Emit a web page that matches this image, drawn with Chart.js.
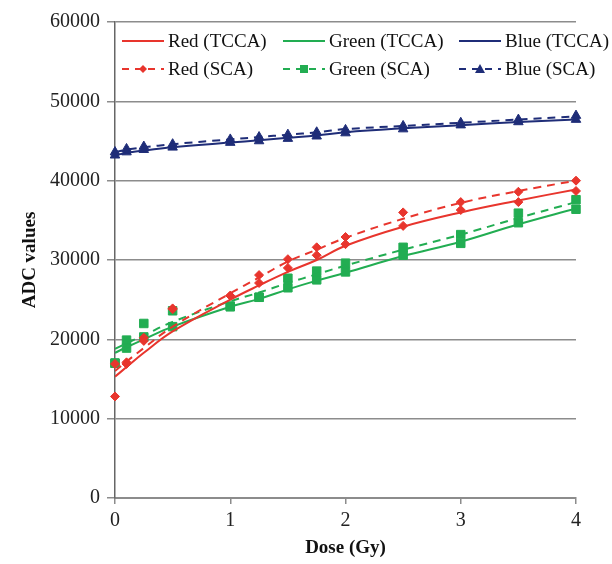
<!DOCTYPE html>
<html lang="en">
<head>
    <meta charset="UTF-8">
    <title>ADC values vs Dose</title>
    <script src="https://cdn.jsdelivr.net/npm/chart.js"></script>
    <style>
        body {
            margin: 0;
            background: #fff;
            font-family: 'Liberation Serif', 'Times New Roman', serif;
        }
        #wrap {
            position: relative;
            width: 612px;
            height: 564px;
        }
        .legend-item {
            position: absolute;
            height: 24px;
            display: flex;
            align-items: center;
            font-size: 19px;
            color: #111;
            white-space: nowrap;
        }
        .legend-item svg {
            margin-right: 4px;
        }
    </style>
</head>
<body>
<div id="wrap">
    <canvas id="chart" width="612" height="564"></canvas>
    <div id="legend"></div>
</div>

<script>
// doses (Gy) where the data were measured
const doses = [0, 0.1, 0.25, 0.5, 1, 1.25, 1.5, 1.75, 2, 2.5, 3, 3.5, 4];

// measured points (markers)
const redTccaPts   = [12800, 16900, 19800, 23800, 25500, 27100, 29000, 30600, 32000, 34300, 36300, 37300, 38700];
const redScaPts    = [16900, 17100, 20200, 23900, 25500, 28100, 30100, 31600, 32900, 36000, 37300, 38600, 40000];
const greenTccaPts = [17000, 18900, 20300, 21600, 24100, 25300, 26500, 27500, 28500, 30600, 32100, 34700, 36400];
const greenScaPts  = [17000, 19900, 22000, 23600, 24200, 25300, 27700, 28600, 29600, 31600, 33200, 35900, 37600];
const blueTccaPts  = [43200, 43600, 43900, 44200, 44800, 45000, 45300, 45600, 46000, 46500, 47000, 47400, 47700];
const blueScaPts   = [43600, 44000, 44300, 44600, 45200, 45500, 45800, 46100, 46400, 46900, 47300, 47700, 48200];

// fitted curves at the same doses
const redTccaFit   = [15300, 16500, 18300, 21000, 25000, 26800, 28500, 30000, 31800, 34200, 36000, 37500, 38900];
const redScaFit    = [16000, 17200, 18900, 21600, 25800, 27800, 29800, 31300, 32800, 35200, 37200, 38700, 40000];
const greenTccaFit = [18300, 19000, 20000, 21600, 24100, 25100, 26300, 27400, 28400, 30500, 32300, 34500, 36500];
const greenScaFit  = [18800, 19500, 20500, 22200, 24800, 25900, 27100, 28200, 29300, 31300, 33200, 35300, 37300];
const blueTccaFit  = [43200, 43500, 43800, 44200, 44800, 45100, 45400, 45700, 46100, 46600, 47000, 47400, 47700];
const blueScaFit   = [43600, 43900, 44200, 44600, 45200, 45500, 45800, 46100, 46500, 46900, 47300, 47700, 48100];

const yTicks = [0, 10000, 20000, 30000, 40000, 50000, 60000];
const xTicks = [0, 1, 2, 3, 4];

const RED = '#e8352d';
const GREEN = '#22ad52';
const BLUE = '#1f2d78';
const GRID = '#8c8c8c';

const toXY = arr => arr.map((v, i) => ({ x: doses[i], y: v }));

function fitLine(values, color, dashed) {
    return {
        data: toXY(values),
        showLine: true,
        borderColor: color,
        borderWidth: 2,
        borderDash: dashed ? [8, 6] : [],
        pointRadius: 0,
        tension: 0.4,
        fill: false
    };
}

function markers(values, color, style, radius) {
    return {
        data: toXY(values),
        showLine: false,
        clip: false,
        pointStyle: style,
        pointRadius: radius,
        pointBackgroundColor: color,
        pointBorderColor: color,
        pointBorderWidth: 1
    };
}

const datasets = [
    fitLine(redTccaFit, RED, false),
    fitLine(redScaFit, RED, true),
    fitLine(blueTccaFit, BLUE, false),
    fitLine(blueScaFit, BLUE, true),
    markers(redTccaPts, RED, 'rectRot', 4.5),
    markers(redScaPts, RED, 'rectRot', 4.5),
    markers(blueTccaPts, BLUE, 'triangle', 5.5),
    markers(blueScaPts, BLUE, 'triangle', 5.5),
    fitLine(greenTccaFit, GREEN, false),
    fitLine(greenScaFit, GREEN, true),
    markers(greenTccaPts, GREEN, 'rect', 6),
    markers(greenScaPts, GREEN, 'rect', 6)
];

new Chart(document.getElementById('chart'), {
    type: 'scatter',
    data: { datasets: datasets },
    options: {
        responsive: false,
        animation: false,
        layout: { padding: { top: 22, right: 36, left: 0, bottom: 0 } },
        plugins: {
            legend: { display: false },
            tooltip: { enabled: false }
        },
        scales: {
            x: {
                type: 'linear',
                min: 0,
                max: 4,
                afterFit: s => { s.height = 66; },
                afterBuildTicks: s => { s.ticks = xTicks.map(v => ({ value: v })); },
                grid: {
                    drawOnChartArea: false,
                    drawTicks: true,
                    tickLength: 6,
                    color: GRID,
                    lineWidth: 1.5
                },
                border: { display: true, color: GRID, width: 2 },
                ticks: {
                    padding: 5,
                    color: '#222',
                    font: { family: 'Liberation Serif', size: 20 }
                },
                title: {
                    display: true,
                    text: 'Dose (Gy)',
                    color: '#111',
                    padding: { top: 0, bottom: 5 },
                    font: { family: 'Liberation Serif', size: 19, weight: 'bold' }
                }
            },
            y: {
                min: 0,
                max: 60000,
                afterFit: s => { s.width = 115; },
                afterBuildTicks: s => { s.ticks = yTicks.map(v => ({ value: v })); },
                grid: {
                    drawTicks: true,
                    tickLength: 8,
                    color: GRID,
                    lineWidth: 1.5
                },
                border: { display: true, color: '#666', width: 1.5 },
                ticks: {
                    padding: 7,
                    color: '#222',
                    font: { family: 'Liberation Serif', size: 20 },
                    callback: v => String(v)
                },
                title: {
                    display: true,
                    text: 'ADC values',
                    color: '#111',
                    padding: { top: 19, bottom: 0 },
                    font: { family: 'Liberation Serif', size: 19, weight: 'bold' }
                }
            }
        }
    }
});

// legend laid out as in the figure: two rows, three aligned columns
const legendItems = [
    { label: 'Red (TCCA)',   color: RED,   dashed: false, marker: null,       left: 122, top: 29 },
    { label: 'Green (TCCA)', color: GREEN, dashed: false, marker: null,       left: 283, top: 29 },
    { label: 'Blue (TCCA)',  color: BLUE,  dashed: false, marker: null,       left: 459, top: 29 },
    { label: 'Red (SCA)',    color: RED,   dashed: true,  marker: 'diamond',  left: 122, top: 57 },
    { label: 'Green (SCA)',  color: GREEN, dashed: true,  marker: 'square',   left: 283, top: 57 },
    { label: 'Blue (SCA)',   color: BLUE,  dashed: true,  marker: 'triangle', left: 459, top: 57 }
];

function markerSvg(kind, color) {
    if (kind === 'diamond') return `<polygon points="21,2 25,6 21,10 17,6" fill="${color}"/>`;
    if (kind === 'square') return `<rect x="17" y="2" width="8" height="8" fill="${color}"/>`;
    if (kind === 'triangle') return `<polygon points="21,1 26,10 16,10" fill="${color}"/>`;
    return '';
}

const legendDiv = document.getElementById('legend');
legendItems.forEach(item => {
    const el = document.createElement('div');
    el.className = 'legend-item';
    el.style.left = item.left + 'px';
    el.style.top = item.top + 'px';
    const dash = item.dashed ? 'stroke-dasharray="7,6"' : '';
    el.innerHTML = `<svg width="42" height="12"><line x1="0" y1="6" x2="42" y2="6" stroke="${item.color}" stroke-width="2" ${dash}/>${markerSvg(item.marker, item.color)}</svg><span>${item.label}</span>`;
    legendDiv.appendChild(el);
});
</script>
</body>
</html>
